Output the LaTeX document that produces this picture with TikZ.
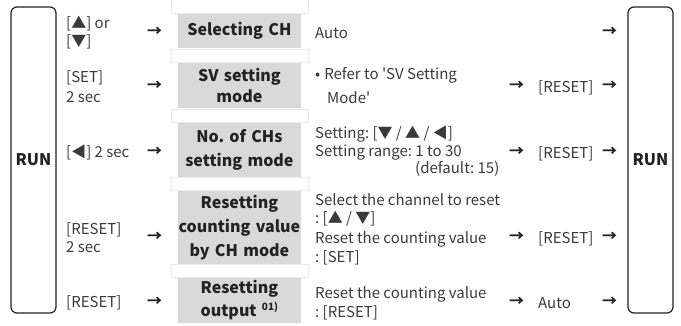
\documentclass[tikz,border=0pt]{standalone}
\usepackage{fontspec}
\setmainfont{Noto Sans CJK KR}
\newfontfamily\qfont{Noto Sans CJK KR}
\frenchspacing
\definecolor{boxgray}{HTML}{D9D9D9}
\definecolor{txt}{HTML}{3A3A3A}
\definecolor{dark}{HTML}{222222}
\definecolor{sep}{HTML}{EBEBEB}
\tikzset{
  runbox/.style={draw=dark, line width=1.2pt, rounded corners=6pt, minimum width=45pt, minimum height=306pt, inner sep=0pt, font=\bfseries\fontsize{16}{20}\selectfont, text=dark},
  modebox/.style={fill=boxgray, minimum width=123.3pt, text width=123.3pt, align=center, inner sep=0pt, text=dark, font=\bfseries\fontsize{16}{23}\selectfont},
  lab/.style={anchor=base west, inner sep=0pt, text=txt, font=\fontsize{15}{17}\selectfont},
  arrowglyph/.style={anchor=west, inner sep=0pt, text=dark, font=\bfseries\fontsize{15}{17}\selectfont},
  sepbox/.style={draw=sep, line width=0.6pt}
}
\begin{document}
\begin{tikzpicture}[x=1pt,y=-1pt]
\useasboundingbox (0,0) rectangle (681,325);
% faint table separators
\draw[sepbox] (171,-2) rectangle (308,13);
\draw[sepbox] (171,49) rectangle (308,62);
\draw[sepbox] (171,109) rectangle (308,122);
\draw[sepbox] (171,177) rectangle (308,190);
\draw[sepbox] (171,264) rectangle (308,277);
% RUN boxes
\node[runbox] (runL) at (33.5,160) {RUN};
\node[runbox] (runR) at (650.5,160) {RUN};
% mode boxes
\node[modebox, minimum height=34pt] (b1) at (239.4,31) {Selecting CH};
\node[modebox, minimum height=45.5pt, font=\bfseries\fontsize{16}{21.5}\selectfont] (b2) at (239.4,85.5) {SV setting\\mode};
\node[modebox, minimum height=54pt, font=\bfseries\fontsize{16}{24.5}\selectfont] (b3) at (239.4,149.7) {No. of CHs\\setting mode};
\node[modebox, minimum height=73.3pt, font=\bfseries\fontsize{16}{24}\selectfont] (b4) at (239.4,227.3) {Resetting\\counting value\\by CH mode};
\node[modebox, minimum height=45pt] (b5) at (239.4,300.5) {Resetting\\output {\fontsize{10}{10}\selectfont\raisebox{6pt}{01)}}};
% left labels
\node[lab] (l1a) at (66,28) {[▲] or};
\node[lab] (l1b) at (66,46) {[▼]};
\node[lab] (l2a) at (66,82) {[SET]};
\node[lab] (l2b) at (66,102) {2 sec};
\node[lab] (l3) at (66,157) {[◀] 2 sec};
\node[lab] (l4a) at (66,234) {[RESET]};
\node[lab] (l4b) at (66,252) {2 sec};
\node[lab] (l5) at (66,307) {[RESET]};
% left arrows
\node[arrowglyph] (a1) at (147,32) {→};
\node[arrowglyph] (a2) at (147,86) {→};
\node[arrowglyph] (a3) at (147,152) {→};
\node[arrowglyph] (a4) at (147,237) {→};
\node[arrowglyph] (a5) at (147,302) {→};
% middle texts
\node[lab] (m1) at (315,38) {Auto};
\node[lab] (m2a) at (315,79) {•\hspace{4pt}Refer to {\qfont '}SV Setting};
\node[lab] (m2b) at (327,103) {Mode{\qfont '}};
\node[lab] (m3a) at (315,138) {Setting: [▼ / ▲ / ◀]};
\node[lab] (m3b) at (315,156) {Setting range: 1 to 30};
\node[lab] (m3c) at (415,173) {(default: 15)};
\node[lab] (m4a) at (315,205) {Select the channel to reset};
\node[lab] (m4b) at (315,223) {: [▲ / ▼]};
\node[lab] (m4c) at (315,243) {Reset the counting value};
\node[lab] (m4d) at (315,262) {: [SET]};
\node[lab] (m5a) at (315,298) {Reset the counting value};
\node[lab] (m5b) at (315,317) {: [RESET]};
% right side
\node[arrowglyph] (r2a) at (509,86) {→};
\node[arrowglyph] (r3a) at (509,152) {→};
\node[arrowglyph] (r4a) at (509,237) {→};
\node[arrowglyph] (r5a) at (509,302) {→};
\node[lab] (r2t) at (538,92) {[RESET]};
\node[lab] (r3t) at (538,158) {[RESET]};
\node[lab] (r4t) at (538,243) {[RESET]};
\node[lab] (r5t) at (538,308) {Auto};
\node[arrowglyph] (r1b) at (602,32) {→};
\node[arrowglyph] (r2b) at (602,86) {→};
\node[arrowglyph] (r3b) at (602,152) {→};
\node[arrowglyph] (r4b) at (602,237) {→};
\node[arrowglyph] (r5b) at (602,302) {→};
\end{tikzpicture}
\end{document}
